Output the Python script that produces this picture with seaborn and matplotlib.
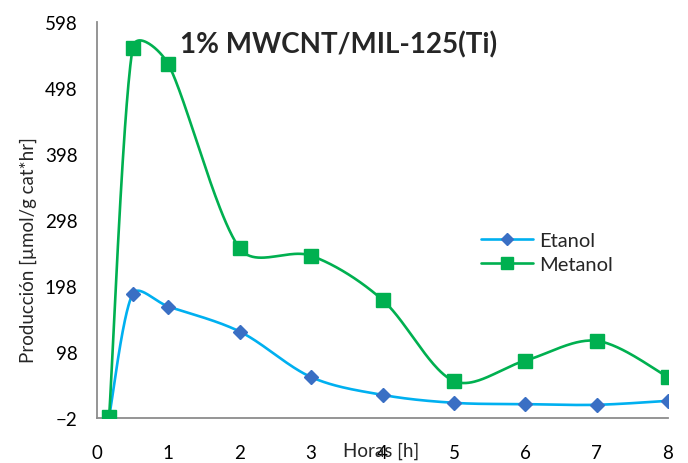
import numpy as np
import matplotlib
matplotlib.use("Agg")
import matplotlib.pyplot as plt
import seaborn as sns

# Sampling times (h) and production rates (µmol/g cat*hr)
horas = [0.17, 0.5, 1, 2, 3, 4, 5, 6, 7, 8]
etanol = [0, 186, 167, 129, 60, 33, 21, 19, 18, 24]
metanol = [0, 559, 534, 255, 244, 177, 54, 85, 115, 60]

x_ticks = [0, 1, 2, 3, 4, 5, 6, 7, 8]
y_ticks = [-2, 98, 198, 298, 398, 498, 598]

X_RANGE = (0, 8)
Y_RANGE = (-2, 598)


def smooth_curve(x, y, sx, sy, n=50):
    """Cubic Bezier smoothing through the points, with tangents damped
    next to short segments (lengths measured in screen-like units)."""
    pts = np.column_stack([np.asarray(x, float) * sx, np.asarray(y, float) * sy])
    p = np.vstack([pts[0], pts, pts[-1]])

    def factor(d_this, d_other):
        if d_this + d_other == 0:
            return 0.0
        return min(1.0, (2 * d_this / (d_this + d_other)) ** 0.7) / 6.0

    out = []
    for i in range(1, len(p) - 2):
        p0, p1, p2, p3 = p[i - 1], p[i], p[i + 1], p[i + 2]
        d01 = np.linalg.norm(p1 - p0)
        d12 = np.linalg.norm(p2 - p1)
        d23 = np.linalg.norm(p3 - p2)
        c1 = p1 + (p2 - p0) * factor(d12, d01)
        c2 = p2 - (p3 - p1) * factor(d12, d23)
        t = np.linspace(0, 1, n)[:, None]
        seg = ((1 - t) ** 3) * p1 + 3 * ((1 - t) ** 2) * t * c1 + 3 * (1 - t) * t ** 2 * c2 + t ** 3 * p2
        out.append(seg if i == 1 else seg[1:])
    seg = np.vstack(out)
    return seg[:, 0] / sx, seg[:, 1] / sy


sns.set_theme(style="white")
plt.rcParams["font.family"] = ["Lato", "DejaVu Sans"]

fig = plt.figure(figsize=(6.88, 4.64), dpi=100)
ax = fig.add_axes([0.141, 0.097, 0.830, 0.853])

blue_line = "#00B0F0"
blue_mark = "#3A6FC4"
green = "#00B050"

# screen scale of the axes (pixels per data unit)
px_x = 0.830 * 688 / (X_RANGE[1] - X_RANGE[0])
px_y = 0.853 * 464 / (Y_RANGE[1] - Y_RANGE[0])

for vals, lc, mc, mk, ms, name in [
    (etanol, blue_line, blue_mark, "D", 7.5, "Etanol"),
    (metanol, green, green, "s", 10.5, "Metanol"),
]:
    sx, sy = smooth_curve(horas, vals, px_x, px_y)
    sns.lineplot(x=sx, y=sy, ax=ax, color=lc, linewidth=1.9, sort=False, estimator=None)
    ax.plot(horas, vals, linestyle="none", marker=mk, markersize=ms,
            markerfacecolor=mc, markeredgecolor=mc, zorder=3)
    ax.plot([], [], color=lc, linewidth=1.9, marker=mk, markersize=ms - 1.5,
            markerfacecolor=mc, markeredgecolor=mc, label=name)

ax.set_xlim(*X_RANGE)
ax.set_ylim(*Y_RANGE)
ax.set_xticks(x_ticks)
ax.set_yticks(y_ticks)
ax.tick_params(axis="both", labelsize=13.5, length=0, colors="#000000")
ax.tick_params(axis="y", pad=14)
ax.tick_params(axis="x", pad=19)

for s in ["top", "right"]:
    ax.spines[s].set_visible(False)
for s in ["left", "bottom"]:
    ax.spines[s].set_color("#8c8c8c")
    ax.spines[s].set_linewidth(1.3)

ax.set_ylabel("Producción [µmol/g cat*hr]", fontsize=13.5)
ax.yaxis.set_label_coords(-0.105, 0.428)
ax.set_xlabel("Horas [h]", fontsize=13.5)
ax.xaxis.set_label_coords(0.498, -0.06)

ax.text(0.145, 0.945, "1% MWCNT/MIL-125(Ti)", transform=ax.transAxes,
        fontsize=20, fontweight="bold", ha="left", va="center")

ax.legend(loc="upper left", bbox_to_anchor=(0.658, 0.49), frameon=False,
          fontsize=14.5, handlelength=2.6, labelspacing=0.35, borderaxespad=0,
          handletextpad=0.3)

fig.savefig("out.png", dpi=100)
